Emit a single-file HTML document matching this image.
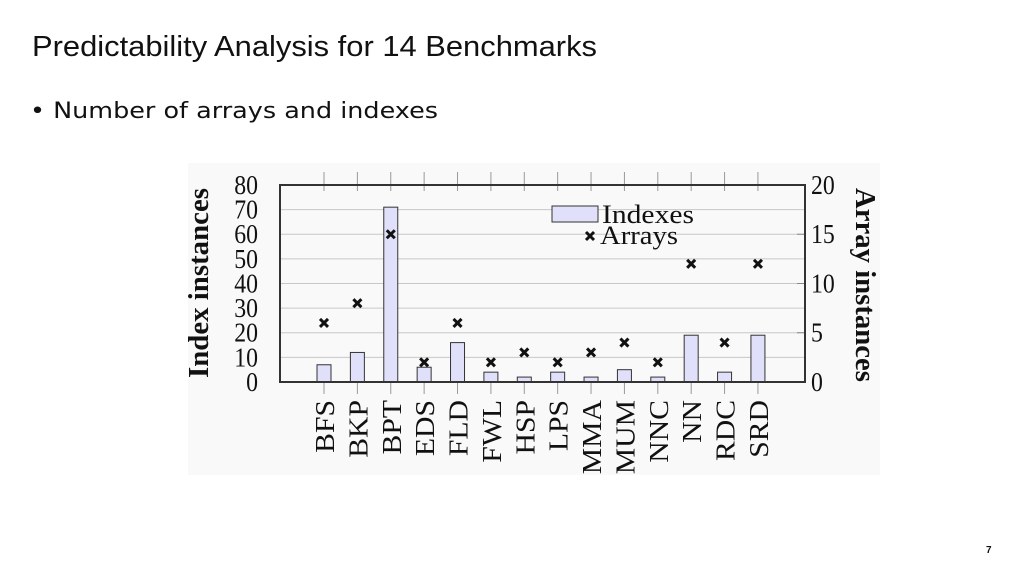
<!DOCTYPE html>
<html><head><meta charset="utf-8"><style>
html,body{margin:0;padding:0;background:#fff;width:1024px;height:576px;overflow:hidden}
svg{display:block}
</style></head><body>
<svg width="1024" height="576" viewBox="0 0 1024 576">
<text x="32" y="56" font-family="Liberation Sans, sans-serif" font-size="29" textLength="565" lengthAdjust="spacingAndGlyphs" fill="#111">Predictability Analysis for 14 Benchmarks</text>
<text x="30" y="118" font-family="DejaVu Sans, sans-serif" font-size="22" textLength="408" lengthAdjust="spacingAndGlyphs" fill="#111">• Number of arrays and indexes</text>
<rect x="188" y="163" width="692" height="312" fill="#f9f9f9"/>
<g id="chart"></g>
<text x="986" y="553" font-family="Liberation Sans, sans-serif" font-size="10" font-weight="bold" fill="#111">7</text>
</svg>
<script>
const categories=["BFS","BKP","BPT","EDS","FLD","FWL","HSP","LPS","MMA","MUM","NNC","NN","RDC","SRD"];
const indexValues=[7,12,71,6,16,4,2,4,2,5,2,19,4,19];
const arrayValues=[6,8,15,2,6,2,3,2,3,4,2,12,4,12];
const leftTicks=[0,10,20,30,40,50,60,70,80];
const rightTicks=[0,5,10,15,20];
const NS="http://www.w3.org/2000/svg";
const g=document.getElementById('chart');
const L=280,R=805,T=185,B=382;
const x=i=>324+i*33.38;
const yL=v=>B-(v/80)*(B-T);
const yR=v=>B-(v/20)*(B-T);
function mk(tag,attrs,parent){const e=document.createElementNS(NS,tag);for(const k in attrs)e.setAttribute(k,attrs[k]);(parent||g).appendChild(e);return e;}
const serif="Liberation Serif, serif";
leftTicks.forEach(v=>{
  const gl=mk('line',{x1:L,x2:R,y1:yL(v),y2:yL(v),stroke:'#c8c8c8','stroke-width':1});
  
  
  const t=mk('text',{x:258,y:yL(v)+9,'text-anchor':'end','font-family':serif,'font-size':27,fill:'#111',transform:`translate(${258*0.12},0) scale(0.88,1)`});
  t.textContent=v;
  
  
});
rightTicks.forEach(v=>{
  const tk=mk('line',{x1:R-8,x2:R,y1:yR(v),y2:yR(v),stroke:'#888','stroke-width':1});
  
  
  const t=mk('text',{x:811,y:yR(v)+9,'font-family':serif,'font-size':27,fill:'#111',transform:`translate(${811*0.12},0) scale(0.88,1)`});
  t.textContent=v;
  
  
});
categories.forEach((c,i)=>{
  const cx=x(i);
  const t1=mk('line',{x1:cx,x2:cx,y1:T-13,y2:T+6,stroke:'#999','stroke-width':1});
  
  
  const t2=mk('line',{x1:cx,x2:cx,y1:B-4,y2:B+12,stroke:'#999','stroke-width':1});
  
  
  const b=mk('rect',{x:cx-7,y:yL(indexValues[i]),width:14,height:B-yL(indexValues[i]),fill:'#e0e0fa',stroke:'#333','stroke-width':1});
  
  
  const my=yR(arrayValues[i]);
  const m=mk('path',{d:`M${cx-4},${my-4}L${cx+4},${my+4}M${cx+4},${my-4}L${cx-4},${my+4}`,stroke:'#111','stroke-width':3});
  
  
  const lb=mk('text',{transform:`translate(${cx+10},400) rotate(-90) scale(1.1,1)`,'text-anchor':'end','font-family':serif,'font-size':27,fill:'#111'});
  lb.textContent=c;
  
  
});
const frame=mk('rect',{x:L,y:T,width:R-L,height:B-T,fill:'none',stroke:'#333','stroke-width':2});


const lb=mk('rect',{x:552,y:206,width:46,height:16,fill:'#e0e0fa',stroke:'#333','stroke-width':1});


const lt=mk('text',{x:602,y:223,'font-family':serif,'font-size':26,fill:'#111',textLength:92,lengthAdjust:'spacingAndGlyphs'});
lt.textContent='Indexes';


const lm=mk('path',{d:'M586,232L594,240M594,232L586,240',stroke:'#111','stroke-width':3});


const la=mk('text',{x:600,y:244,'font-family':serif,'font-size':26,fill:'#111',textLength:78,lengthAdjust:'spacingAndGlyphs'});
la.textContent='Arrays';


const yt=mk('text',{transform:'translate(208,283) rotate(-90)','text-anchor':'middle','font-family':serif,'font-size':28,'font-weight':'bold',fill:'#111',textLength:190,lengthAdjust:'spacingAndGlyphs'});
yt.textContent='Index  instances';


const rt=mk('text',{transform:'translate(856,285) rotate(90)','text-anchor':'middle','font-family':serif,'font-size':28,'font-weight':'bold',fill:'#111',textLength:194,lengthAdjust:'spacingAndGlyphs'});
rt.textContent='Array  instances';


</script>
</body></html>
